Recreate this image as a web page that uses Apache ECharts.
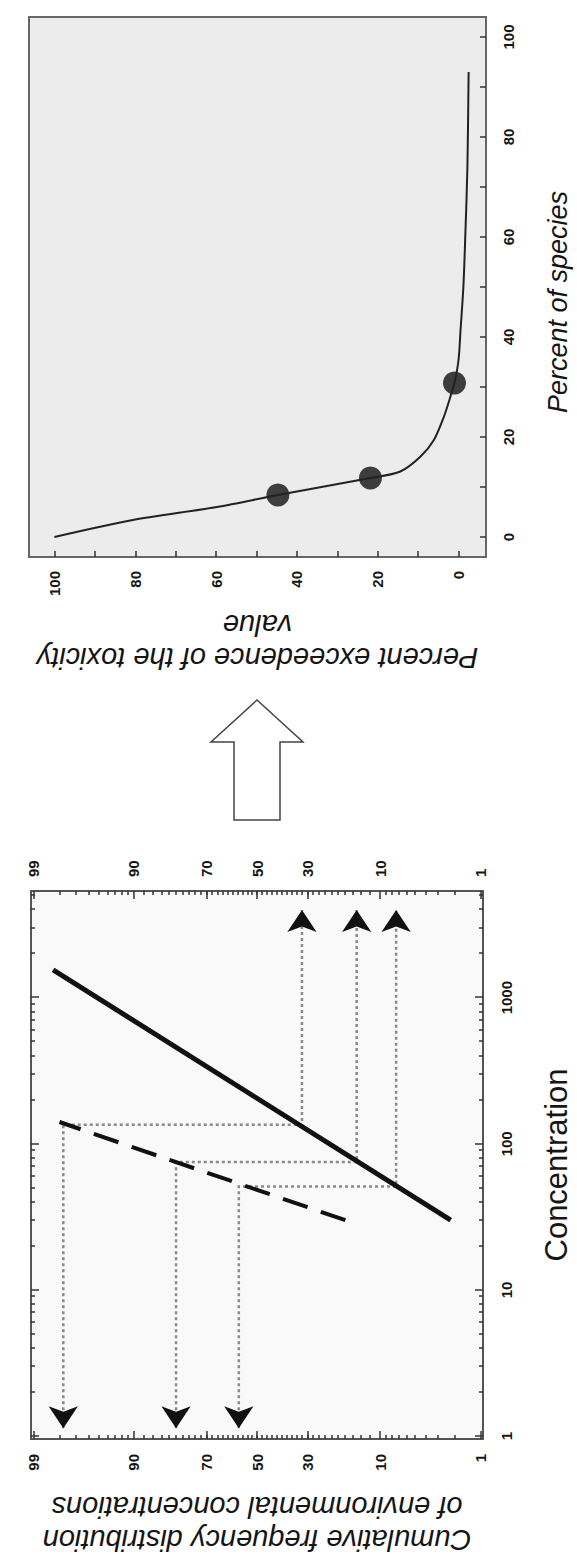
<!DOCTYPE html>
<html>
<head>
<meta charset="utf-8">
<script src="https://cdn.jsdelivr.net/npm/echarts@6/dist/echarts.min.js"></script>
<style>
html, body { margin: 0; padding: 0; width: 577px; height: 1566px; overflow: hidden; background: #fff; }
/* the figure is laid out landscape and turned a quarter turn, as in the scan */
#chart { position: absolute; left: 0; top: 0; width: 1566px; height: 577px;
         transform-origin: 0 0; transform: translate(0, 1566px) rotate(-90deg); }
</style>
</head>
<body>
<div id="chart"></div>
<script>
var myChart = echarts.init(document.getElementById('chart'), null, { renderer: 'svg' });

// left panel: probability paper, concentration (log) vs cumulative %
var concTicks = [1, 10, 100, 1000];
var pctTicks = [1, 10, 30, 50, 70, 90, 99];

// toxicity distribution (solid) and environmental distribution (dashed)
var toxConc = [30, 1550];
var toxPct = [2.2, 98.3];
var envConc = [30, 141];
var envPct = [17.9, 98];

// read-across concentrations and the percentiles they hit on each line
var guideConc = [135, 75, 51];
var guideEnvPct = [97.8, 80, 57.5];
var guideToxPct = [32, 15, 7.4];
var arrowConc = [1.13, 3980];     // arrow tips

// right panel: percent exceedence curve
var speciesPct = [0, 3.4, 6, 8.4, 11.8, 13.1, 16.1, 19.4, 24.1, 28.1, 30.8, 35.4, 41.4, 50, 60.8, 74, 93];
var exceedPct = [100, 80.6, 59.8, 44.7, 21.8, 14.4, 9.4, 6.1, 3.6, 2, 1.0, 0, -0.5, -1.2, -1.7, -2.2, -2.5];
var dotSpecies = [8.4, 11.8, 30.8];
var dotExceed = [44.7, 21.8, 1.0];
var speciesTicks = [0, 20, 40, 60, 80, 100];
var exceedTicks = [0, 20, 40, 60, 80, 100];

// inverse normal cdf (Acklam) - the probability axis is in z units
function probit(pct) {
    var p = pct / 100;
    var a = [-39.69683028665376, 220.9460984245205, -275.9285104469687, 138.3577518672690, -30.66479806614716, 2.506628277459239];
    var b = [-54.47609879822406, 161.5858368580409, -155.6989798598866, 66.80131188771972, -13.28068155288572];
    var c = [-0.007784894002430293, -0.3223964580411365, -2.400758277161838, -2.549732539343734, 4.374664141464968, 2.938163982698783];
    var d = [0.007784695709041462, 0.3224671290700398, 2.445134137142996, 3.754408661907416];
    var q, r;
    if (p < 0.02425) {
        q = Math.sqrt(-2 * Math.log(p));
        return (((((c[0]*q+c[1])*q+c[2])*q+c[3])*q+c[4])*q+c[5]) / ((((d[0]*q+d[1])*q+d[2])*q+d[3])*q+1);
    }
    if (p > 1 - 0.02425) {
        q = Math.sqrt(-2 * Math.log(1 - p));
        return -(((((c[0]*q+c[1])*q+c[2])*q+c[3])*q+c[4])*q+c[5]) / ((((d[0]*q+d[1])*q+d[2])*q+d[3])*q+1);
    }
    q = p - 0.5; r = q * q;
    return (((((a[0]*r+a[1])*r+a[2])*r+a[3])*r+a[4])*r+a[5])*q / (((((b[0]*r+b[1])*r+b[2])*r+b[3])*r+b[4])*r+1);
}

// minor ticks
var concMinor = [];
concTicks.forEach(function (t) { for (var k = 2; k <= 9; k++) concMinor.push(t * k); });
var pctMinor = [];
for (var i = 2; i < 10; i++) pctMinor.push(i);
for (i = 12; i < 90; i += 2) pctMinor.push(i);
for (i = 91; i < 99; i++) pctMinor.push(i);

var pctTickZ = pctTicks.map(probit);
var pctMinorZ = pctMinor.map(probit);
function pctLabel(v) {
    for (var j = 0; j < pctTicks.length; j++) {
        if (Math.abs(pctTickZ[j] - v) < 1e-6) return String(pctTicks[j]);
    }
    return '';
}

var tickLabel = { fontFamily: 'Liberation Sans', fontSize: 15, fontWeight: 'bold', color: '#151515' };
var tickLine = { color: '#333', width: 1.5 };
var noLine = { show: false, onZero: false };

function concAxis(pos, ticks, len, withLabel) {
    var ax = {
        type: 'log', logBase: 10, gridIndex: 0, position: pos,
        min: 0.955, max: 5370,
        axisLine: noLine, splitLine: { show: false },
        axisTick: { show: true, inside: true, length: len, customValues: ticks, lineStyle: tickLine },
        axisLabel: { show: false }
    };
    if (withLabel) {
        ax.axisLabel = Object.assign({
            show: true, margin: 16, customValues: concTicks,
            formatter: function (v) { return String(Math.round(v)); }
        }, tickLabel);
        ax.name = 'Concentration';
        ax.nameLocation = 'middle';
        ax.nameGap = 58;
        ax.nameTextStyle = { fontFamily: 'Liberation Sans', fontSize: 31, color: '#151515' };
    }
    return ax;
}

function pctAxis(pos, ticks, len, withLabel, margin) {
    var ax = {
        type: 'value', gridIndex: 0, position: pos,
        min: -2.35, max: 2.35,
        axisLine: noLine, splitLine: { show: false },
        axisTick: { show: true, inside: true, length: len, customValues: ticks, lineStyle: tickLine },
        axisLabel: { show: false }
    };
    if (withLabel) {
        ax.axisLabel = Object.assign({ show: true, margin: margin, customValues: pctTickZ, formatter: pctLabel }, tickLabel);
    }
    return ax;
}

var leftPct = pctAxis('left', pctTickZ, 8, true, 15);
leftPct.name = 'Cumulative frequency distribution\nof environmental concentrations';
leftPct.nameLocation = 'middle';
leftPct.nameGap = 51;
leftPct.nameTextStyle = { fontFamily: 'Liberation Sans', fontSize: 29, fontStyle: 'italic', color: '#151515', lineHeight: 33 };

var tenths = [0, 10, 20, 30, 40, 50, 60, 70, 80, 90, 100];

option = {
    animation: false,
    backgroundColor: '#fff',
    grid: [
        { left: 127, top: 31, width: 548, height: 455, show: true, backgroundColor: '#f9f9f9', borderColor: '#555', borderWidth: 2 },
        { left: 1009, top: 29, width: 540, height: 457, show: true, backgroundColor: '#ececec', borderColor: '#666', borderWidth: 2 }
    ],
    xAxis: [
        concAxis('bottom', concTicks, 8, true),
        concAxis('bottom', concMinor, 4, false),
        concAxis('top', concTicks, 8, false),
        concAxis('top', concMinor, 4, false),
        {
            type: 'value', gridIndex: 1, position: 'bottom', min: -4, max: 104,
            axisLine: noLine, splitLine: { show: false },
            axisTick: { show: true, inside: true, length: 6, customValues: tenths, lineStyle: tickLine },
            axisLabel: Object.assign({ margin: 15, customValues: speciesTicks }, tickLabel),
            name: 'Percent of species', nameLocation: 'middle', nameGap: 58,
            nameTextStyle: { fontFamily: 'Liberation Sans', fontSize: 27, fontStyle: 'italic', color: '#151515', padding: [0, 30, 0, 0] }
        }
    ],
    yAxis: [
        leftPct,
        pctAxis('left', pctMinorZ, 4, false),
        pctAxis('right', pctTickZ, 8, true, 14),
        pctAxis('right', pctMinorZ, 4, false),
        {
            type: 'value', gridIndex: 1, position: 'left', min: -6.8, max: 106.3,
            axisLine: noLine, splitLine: { show: false },
            axisTick: { show: true, inside: true, length: 6, customValues: tenths, lineStyle: tickLine },
            axisLabel: Object.assign({ margin: 14, customValues: exceedTicks }, tickLabel),
            name: 'Percent exceedence of the toxicity\nvalue', nameLocation: 'middle', nameGap: 51,
            nameTextStyle: { fontFamily: 'Liberation Sans', fontSize: 29, fontStyle: 'italic', color: '#151515', lineHeight: 33 }
        }
    ],
    graphic: [{
        // open block arrow between the panels
        type: 'polygon',
        shape: { points: [[866, 257], [824, 303], [824, 280], [746, 280], [746, 234], [824, 234], [824, 211]] },
        style: { fill: 'none', stroke: '#444', lineWidth: 1.5 }
    }],
    series: [
        {
            name: 'guides', type: 'lines', coordinateSystem: 'cartesian2d', xAxisIndex: 0, yAxisIndex: 0,
            silent: true, symbol: ['none', 'none'], polyline: true,
            lineStyle: { color: '#8a8a8a', width: 2.5, type: [3, 3], opacity: 1, curveness: 0 },
            data: guideConc.map(function (c, k) {
                return { coords: [[arrowConc[0], probit(guideEnvPct[k])], [c, probit(guideEnvPct[k])], [c, probit(guideToxPct[k])], [arrowConc[1], probit(guideToxPct[k])]] };
            })
        },
        {
            name: 'arrowheads', type: 'lines', coordinateSystem: 'cartesian2d', xAxisIndex: 0, yAxisIndex: 0,
            silent: true, symbol: ['none', 'arrow'], symbolSize: [19, 22],
            lineStyle: { color: '#111', width: 0, opacity: 1 },
            data: guideConc.reduce(function (acc, c, k) {
                acc.push({ coords: [[c, probit(guideEnvPct[k])], [arrowConc[0], probit(guideEnvPct[k])]] });
                acc.push({ coords: [[c, probit(guideToxPct[k])], [arrowConc[1], probit(guideToxPct[k])]] });
                return acc;
            }, [])
        },
        {
            name: 'toxicity', type: 'line', xAxisIndex: 0, yAxisIndex: 0, symbol: 'none', silent: true,
            lineStyle: { color: '#111', width: 5 },
            data: toxConc.map(function (c, k) { return [c, probit(toxPct[k])]; })
        },
        {
            name: 'environment', type: 'line', xAxisIndex: 0, yAxisIndex: 0, symbol: 'none', silent: true,
            lineStyle: { color: '#111', width: 4, type: [26, 14] },
            data: envConc.map(function (c, k) { return [c, probit(envPct[k])]; })
        },
        {
            name: 'exceedence', type: 'line', xAxisIndex: 4, yAxisIndex: 4, symbol: 'none', silent: true,
            smooth: 0.3,
            lineStyle: { color: '#222', width: 2 },
            data: speciesPct.map(function (s, k) { return [s, exceedPct[k]]; })
        },
        {
            name: 'points', type: 'scatter', xAxisIndex: 4, yAxisIndex: 4, silent: true,
            symbolSize: 23, itemStyle: { color: '#111' },
            data: dotSpecies.map(function (s, k) { return [s, dotExceed[k]]; })
        }
    ]
};

myChart.setOption(option);
</script>
</body>
</html>
